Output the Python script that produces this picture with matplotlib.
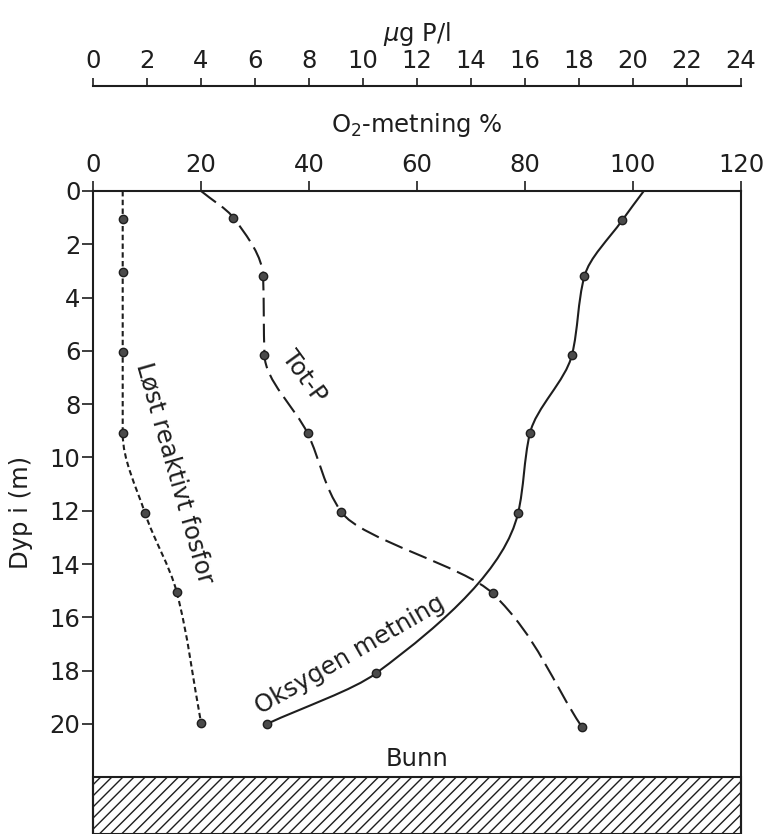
import numpy as np
import matplotlib.pyplot as plt
from matplotlib.path import Path
from matplotlib.patches import PathPatch, Rectangle

plt.rcParams['font.family'] = ['DejaVu Sans']

# oksygenmetning (%), dybde (m)
o2_depth = [0, 1.1, 3.2, 6.15, 9.1, 12.1, 18.1, 20.0]
o2_sat = [102, 98, 91, 88.7, 80.9, 78.7, 52.4, 32.2]

# total fosfor (ug P/l)
totp_depth = [0, 1.0, 3.2, 6.15, 9.1, 12.05, 15.1, 20.1]
totp = [4.0, 5.2, 6.3, 6.35, 7.95, 9.2, 14.8, 18.1]

# løst reaktivt fosfor (ug P/l)
srp_depth = [0, 1.05, 3.05, 6.05, 9.1, 12.1, 15.05, 19.95]
srp = [1.1, 1.1, 1.1, 1.1, 1.1, 1.93, 3.1, 4.0]

o2_ticks = [0, 20, 40, 60, 80, 100, 120]
p_ticks = list(range(0, 25, 2))
depth_ticks = list(range(0, 21, 2))
bottom_depth = 22

INK = '#1e1e1e'
FS = 17.5


def pchip_slopes(d, x):
    # monotone tangenter (Fritsch-Carlson), dx/ddybde
    d = np.asarray(d, float)
    x = np.asarray(x, float)
    h = np.diff(d)
    s = np.diff(x) / h
    m = np.zeros_like(x)
    m[0], m[-1] = s[0], s[-1]
    for i in range(1, len(x) - 1):
        if s[i - 1] * s[i] <= 0:
            m[i] = 0
        else:
            w1 = 2 * h[i] + h[i - 1]
            w2 = h[i] + 2 * h[i - 1]
            m[i] = (w1 + w2) / (w1 / s[i - 1] + w2 / s[i])
    return m


def smooth_path(x, d):
    # glatt kurve gjennom punktene som bezier-segmenter
    m = pchip_slopes(d, x)
    verts = [(x[0], d[0])]
    codes = [Path.MOVETO]
    for i in range(len(x) - 1):
        h = d[i + 1] - d[i]
        verts += [(x[i] + m[i] * h / 3, d[i] + h / 3),
                  (x[i + 1] - m[i + 1] * h / 3, d[i + 1] - h / 3),
                  (x[i + 1], d[i + 1])]
        codes += [Path.CURVE4] * 3
    return Path(verts, codes)


def draw_curve(ax, x, d, ls):
    ax.add_patch(PathPatch(smooth_path(x, d), fill=False, lw=1.5, ec=INK,
                           ls=ls, capstyle='butt'))
    ax.plot(x[1:], d[1:], 'o', ms=6, mfc='#4a4a4a', mec=INK, mew=1.0, zorder=5)


fig = plt.figure(figsize=(7.67, 8.34), dpi=100)
ax = fig.add_axes([93 / 767, 0, 648 / 767, 1 - 191 / 834])
ax.set_xlim(0, 120)
ax.set_ylim(24.13, 0)

# bunn
ax.add_patch(Rectangle((0, bottom_depth), 120, 24.13 - bottom_depth, fill=False,
                       hatch='///', ec=INK, lw=1.5, clip_on=False))
ax.text(60, 21.3, 'Bunn', fontsize=FS, color=INK, ha='center', va='center')

draw_curve(ax, o2_sat, o2_depth, '-')

# fosfor-akse
axp = ax.twiny()
axp.set_xlim(0, 24)
axp.set_ylim(24.13, 0)
axp.set_xticks(p_ticks)
for s in ['bottom', 'left', 'right']:
    axp.spines[s].set_visible(False)
axp.spines['top'].set_position(('outward', 105 * 0.72))
axp.spines['top'].set_linewidth(1.5)
axp.spines['top'].set_color(INK)
axp.tick_params(axis='x', labelsize=FS, color=INK, labelcolor=INK, width=1.2,
                length=6, pad=3)
axp.set_xlabel(r'$\mu$g P/l', fontsize=FS, color=INK, labelpad=6)

draw_curve(axp, totp, totp_depth, (0, (9, 3.5)))
draw_curve(axp, srp, srp_depth, (0, (2.6, 1.6)))

# O2-akse (twiny flytter den ned, så sett den opp igjen)
ax.xaxis.tick_top()
ax.xaxis.set_label_position('top')
ax.set_xticks(o2_ticks)
ax.set_yticks(depth_ticks)
ax.tick_params(axis='both', labelsize=FS, color=INK, labelcolor=INK, width=1.2)
ax.tick_params(axis='x', length=7, pad=3)
ax.tick_params(axis='y', length=8, pad=1)
ax.set_xlabel('O$_2$-metning %', fontsize=FS, color=INK, labelpad=15)
ax.set_ylabel('Dyp i (m)', fontsize=FS, color=INK, labelpad=12)
ax.spines['bottom'].set_visible(False)
for s in ['top', 'left', 'right']:
    ax.spines[s].set_linewidth(1.5)
    ax.spines[s].set_color(INK)

ax.text(15.2, 10.6, 'Løst reaktivt fosfor', fontsize=FS, color=INK,
        rotation=-74, rotation_mode='anchor', ha='center', va='center')
ax.text(39.1, 6.95, 'Tot-P', fontsize=FS, color=INK,
        rotation=-54, rotation_mode='anchor', ha='center', va='center')
ax.text(47.6, 17.4, 'Oksygen metning', fontsize=FS, color=INK,
        rotation=30, rotation_mode='anchor', ha='center', va='center')

fig.savefig('out.png', dpi=100)
